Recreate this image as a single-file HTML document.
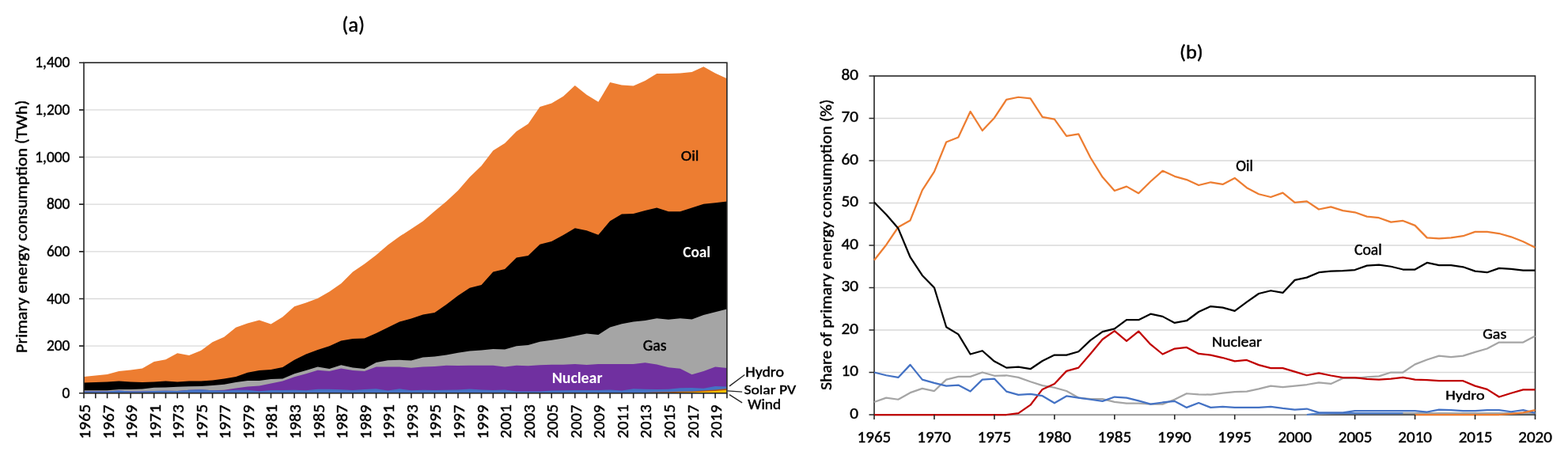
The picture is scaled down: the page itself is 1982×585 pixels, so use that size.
<!DOCTYPE html>
<html><head><meta charset="utf-8"><title>Primary energy consumption</title>
<style>html,body{margin:0;padding:0;background:#fff;}svg{display:block;}text{font-family:Carlito, &quot;Liberation Sans&quot;, Arial, sans-serif;stroke-width:0.45px;paint-order:stroke;}</style>
</head><body>
<svg width="1982" height="585" viewBox="0 0 1982 585" font-family='Carlito, &quot;Liberation Sans&quot;, Arial, sans-serif'>
<rect width="1982" height="585" fill="#fff"/>
<line x1="106.0" x2="918.9" y1="437.14" y2="437.14" stroke="#D9D9D9" stroke-width="1.3"/>
<line x1="106.0" x2="918.9" y1="377.49" y2="377.49" stroke="#D9D9D9" stroke-width="1.3"/>
<line x1="106.0" x2="918.9" y1="317.83" y2="317.83" stroke="#D9D9D9" stroke-width="1.3"/>
<line x1="106.0" x2="918.9" y1="258.17" y2="258.17" stroke="#D9D9D9" stroke-width="1.3"/>
<line x1="106.0" x2="918.9" y1="198.51" y2="198.51" stroke="#D9D9D9" stroke-width="1.3"/>
<line x1="106.0" x2="918.9" y1="138.86" y2="138.86" stroke="#D9D9D9" stroke-width="1.3"/>
<path d="M106,496.8L106,475.9L120.78,474.5L135.56,473L150.34,469.1L165.12,467.6L179.9,465.5L194.68,457.1L209.46,454.2L224.24,446.3L239.02,449L253.8,443.1L268.58,432.3L283.36,425.7L298.14,413.8L312.92,408.5L327.7,404.5L342.48,409.6L357.26,400.4L372.04,387.2L386.82,382.5L401.6,377.1L416.38,368.5L431.16,358.2L445.94,343.5L460.72,333.6L475.5,322.3L490.28,309.5L505.06,298.8L519.84,289.2L534.62,279.6L549.4,266.7L564.18,254.4L578.96,240.7L593.74,223.8L608.52,209.5L623.3,190.3L638.08,181.1L652.86,166L667.64,156.6L682.42,134.9L697.2,130.4L711.98,121.8L726.76,108L741.54,119.7L756.32,128.8L771.1,104.1L785.88,107.4L800.66,108.5L815.44,102.1L830.22,93.1L845,93.1L859.78,92.6L874.56,91L889.34,84.2L904.12,92.4L918.9,99.2L918.9,496.8Z" fill="#ED7D31"/>
<path d="M106,496.8L106,483.4L120.78,482.9L135.56,482.5L150.34,481.6L165.12,482.5L179.9,482.9L194.68,482.5L209.46,481.6L224.24,482.5L239.02,481.6L253.8,481.6L268.58,480.4L283.36,478.6L298.14,476L312.92,470.7L327.7,468.1L342.48,467.1L357.26,464L372.04,454.8L386.82,447.6L401.6,442L416.38,437.3L431.16,430.6L445.94,428.1L460.72,427.5L475.5,420.9L490.28,413.7L505.06,406.5L519.84,402.4L534.62,397.4L549.4,394.9L564.18,384.7L578.96,373.4L593.74,363.7L608.52,360L623.3,343.6L638.08,339.9L652.86,325.6L667.64,323.1L682.42,308.7L697.2,305L711.98,297L726.76,288.3L741.54,291.2L756.32,296.7L771.1,279.3L785.88,270.6L800.66,270L815.44,265.9L830.22,262.4L845,267.3L859.78,267.3L874.56,262.4L889.34,257.7L904.12,256.3L918.9,254.6L918.9,496.8Z" fill="#000000"/>
<path d="M106,496.8L106,493.3L120.78,493.3L135.56,493.3L150.34,491.9L165.12,491.9L179.9,491.5L194.68,489.7L209.46,489.4L224.24,488.8L239.02,488.3L253.8,487.9L268.58,487L283.36,485.8L298.14,482.9L312.92,481L327.7,481L342.48,479L357.26,478.4L372.04,472.2L386.82,468.1L401.6,463.4L416.38,466.1L431.16,461.3L445.94,464.6L460.72,466.1L475.5,457.9L490.28,455.2L505.06,454.8L519.84,455.5L534.62,451.4L549.4,450.5L564.18,448.6L578.96,445.8L593.74,443.5L608.52,442.4L623.3,441.1L638.08,441.6L652.86,437.3L667.64,436L682.42,431.7L697.2,429.8L711.98,427.6L726.76,424.6L741.54,421.6L756.32,423.1L771.1,413.4L785.88,409.2L800.66,406.6L815.44,404.9L830.22,402.3L845,403.8L859.78,402.3L874.56,403.4L889.34,398.1L904.12,394.2L918.9,390.4L918.9,496.8Z" fill="#A5A5A5"/>
<path d="M106,496.8L106,494.4L120.78,494.4L135.56,494.4L150.34,493.53L165.12,494.38L179.9,494.4L194.68,494.1L209.46,493.82L224.24,494.02L239.02,492.83L253.8,492.24L268.58,493.25L283.36,492.86L298.14,490.6L312.92,488.5L327.7,487.6L342.48,484.5L357.26,481.4L372.04,476.3L386.82,472.2L401.6,467.7L416.38,469.1L431.16,465.6L445.94,468.1L460.72,469.1L475.5,463.6L490.28,463.6L505.06,463.6L519.84,464.8L534.62,463.6L549.4,463.1L564.18,461.8L578.96,462.1L593.74,461.8L608.52,461.8L623.3,461.8L638.08,463.6L652.86,461.8L667.64,462.3L682.42,461.2L697.2,460.8L711.98,460.8L726.76,460L741.54,461.1L756.32,460L771.1,460L785.88,460L800.66,460L815.44,458.3L830.22,460.4L845,464.3L859.78,465.8L874.56,473.2L889.34,469L904.12,463.6L918.9,465.1L918.9,496.8Z" fill="#7030A0"/>
<path d="M106,496.8L106,494.4L120.78,494.4L135.56,494.4L150.34,493.53L165.12,494.38L179.9,494.4L194.68,494.1L209.46,493.82L224.24,494.02L239.02,492.83L253.8,492.24L268.58,493.25L283.36,493.46L298.14,492.73L312.92,492.87L327.7,494.26L342.48,492.96L357.26,492.94L372.04,492.85L386.82,493.14L401.6,491.77L416.38,491.67L431.16,492.23L445.94,492.97L460.72,492.07L475.5,491.22L490.28,493.62L505.06,491.26L519.84,493.27L534.62,492.67L549.4,492.89L564.18,492.68L578.96,492.45L593.74,491.61L608.52,492.49L623.3,493.12L638.08,492.38L652.86,494.4L667.64,494.4L682.42,494.4L697.2,493.5L711.98,493.23L726.76,493L741.54,492.91L756.32,492.89L771.1,492.57L785.88,493.57L800.66,491.34L815.44,491.66L830.22,491.97L845,491.67L859.78,490.35L874.56,489.94L889.34,490.71L904.12,488.05L918.9,488.5L918.9,496.8Z" fill="#4472C4"/>
<path d="M106,496.8L106,496.8L120.78,496.8L135.56,496.8L150.34,496.8L165.12,496.8L179.9,496.8L194.68,496.8L209.46,496.8L224.24,496.8L239.02,496.8L253.8,496.8L268.58,496.8L283.36,496.8L298.14,496.8L312.92,496.8L327.7,496.8L342.48,496.8L357.26,496.8L372.04,496.8L386.82,496.8L401.6,496.8L416.38,496.8L431.16,496.8L445.94,496.8L460.72,496.8L475.5,496.8L490.28,496.8L505.06,496.8L519.84,496.8L534.62,496.8L549.4,496.8L564.18,496.8L578.96,496.8L593.74,496.8L608.52,496.8L623.3,496.8L638.08,496.8L652.86,496.8L667.64,496.8L682.42,496.8L697.2,496.8L711.98,496.6L726.76,496.5L741.54,496.3L756.32,496.2L771.1,496.1L785.88,496.1L800.66,496L815.44,496L830.22,495.6L845,495.3L859.78,494.8L874.56,494.4L889.34,493.6L904.12,492.5L918.9,490.9L918.9,496.8Z" fill="#B4530F"/>
<path d="M106,496.8L106,496.8L120.78,496.8L135.56,496.8L150.34,496.8L165.12,496.8L179.9,496.8L194.68,496.8L209.46,496.8L224.24,496.8L239.02,496.8L253.8,496.8L268.58,496.8L283.36,496.8L298.14,496.8L312.92,496.8L327.7,496.8L342.48,496.8L357.26,496.8L372.04,496.8L386.82,496.8L401.6,496.8L416.38,496.8L431.16,496.8L445.94,496.8L460.72,496.8L475.5,496.8L490.28,496.8L505.06,496.8L519.84,496.8L534.62,496.8L549.4,496.8L564.18,496.8L578.96,496.8L593.74,496.8L608.52,496.8L623.3,496.8L638.08,496.8L652.86,496.8L667.64,496.8L682.42,496.8L697.2,496.8L711.98,496.8L726.76,496.8L741.54,496.8L756.32,496.8L771.1,496.8L785.88,496.8L800.66,496.8L815.44,496.8L830.22,496.5L845,496.2L859.78,495.8L874.56,495.4L889.34,494.8L904.12,494L918.9,492.8L918.9,496.8Z" fill="#FFC000"/>
<rect x="106.0" y="79.2" width="812.9" height="417.6" fill="none" stroke="#262626" stroke-width="1.6"/>
<path d="M100,496.8H106.0M100,437.14H106.0M100,377.49H106.0M100,317.83H106.0M100,258.17H106.0M100,198.51H106.0M100,138.86H106.0M100,79.2H106.0M106,496.8V503.3M120.78,496.8V503.3M135.56,496.8V503.3M150.34,496.8V503.3M165.12,496.8V503.3M179.9,496.8V503.3M194.68,496.8V503.3M209.46,496.8V503.3M224.24,496.8V503.3M239.02,496.8V503.3M253.8,496.8V503.3M268.58,496.8V503.3M283.36,496.8V503.3M298.14,496.8V503.3M312.92,496.8V503.3M327.7,496.8V503.3M342.48,496.8V503.3M357.26,496.8V503.3M372.04,496.8V503.3M386.82,496.8V503.3M401.6,496.8V503.3M416.38,496.8V503.3M431.16,496.8V503.3M445.94,496.8V503.3M460.72,496.8V503.3M475.5,496.8V503.3M490.28,496.8V503.3M505.06,496.8V503.3M519.84,496.8V503.3M534.62,496.8V503.3M549.4,496.8V503.3M564.18,496.8V503.3M578.96,496.8V503.3M593.74,496.8V503.3M608.52,496.8V503.3M623.3,496.8V503.3M638.08,496.8V503.3M652.86,496.8V503.3M667.64,496.8V503.3M682.42,496.8V503.3M697.2,496.8V503.3M711.98,496.8V503.3M726.76,496.8V503.3M741.54,496.8V503.3M756.32,496.8V503.3M771.1,496.8V503.3M785.88,496.8V503.3M800.66,496.8V503.3M815.44,496.8V503.3M830.22,496.8V503.3M845,496.8V503.3M859.78,496.8V503.3M874.56,496.8V503.3M889.34,496.8V503.3M904.12,496.8V503.3M918.9,496.8V503.3" stroke="#262626" stroke-width="1.6" fill="none"/>
<text x="432.24" y="39.87" font-size="25.83" font-weight="400" fill="#000" stroke="#000" textLength="28.78" lengthAdjust="spacingAndGlyphs">(a)</text>
<text x="78.53" y="503" font-size="19.34" font-weight="400" fill="#000" stroke="#000" textLength="9.8" lengthAdjust="spacingAndGlyphs">0</text>
<text x="58.92" y="443.34" font-size="19.34" font-weight="400" fill="#000" stroke="#000" textLength="29.41" lengthAdjust="spacingAndGlyphs">200</text>
<text x="58.92" y="383.68" font-size="19.34" font-weight="400" fill="#000" stroke="#000" textLength="29.41" lengthAdjust="spacingAndGlyphs">400</text>
<text x="58.92" y="324.03" font-size="19.34" font-weight="400" fill="#000" stroke="#000" textLength="29.41" lengthAdjust="spacingAndGlyphs">600</text>
<text x="58.92" y="264.37" font-size="19.34" font-weight="400" fill="#000" stroke="#000" textLength="29.41" lengthAdjust="spacingAndGlyphs">800</text>
<text x="44.3" y="204.71" font-size="19.34" font-weight="400" fill="#000" stroke="#000" textLength="44.04" lengthAdjust="spacingAndGlyphs">1,000</text>
<text x="44.3" y="145.05" font-size="19.34" font-weight="400" fill="#000" stroke="#000" textLength="44.04" lengthAdjust="spacingAndGlyphs">1,200</text>
<text x="44.3" y="85.4" font-size="19.34" font-weight="400" fill="#000" stroke="#000" textLength="44.04" lengthAdjust="spacingAndGlyphs">1,400</text>
<text transform="translate(114,553) rotate(-90)" x="-1.69" y="0" font-size="20.95" font-weight="400" fill="#000" stroke="#000" textLength="43.85" lengthAdjust="spacingAndGlyphs">1965</text>
<text transform="translate(143.56,553) rotate(-90)" x="-1.66" y="0" font-size="20.95" font-weight="400" fill="#000" stroke="#000" textLength="43.14" lengthAdjust="spacingAndGlyphs">1967</text>
<text transform="translate(173.12,553) rotate(-90)" x="-1.66" y="0" font-size="20.95" font-weight="400" fill="#000" stroke="#000" textLength="43.14" lengthAdjust="spacingAndGlyphs">1969</text>
<text transform="translate(202.68,553) rotate(-90)" x="-1.68" y="0" font-size="20.95" font-weight="400" fill="#000" stroke="#000" textLength="43.49" lengthAdjust="spacingAndGlyphs">1971</text>
<text transform="translate(232.24,553) rotate(-90)" x="-1.68" y="0" font-size="20.95" font-weight="400" fill="#000" stroke="#000" textLength="43.49" lengthAdjust="spacingAndGlyphs">1973</text>
<text transform="translate(261.8,553) rotate(-90)" x="-1.69" y="0" font-size="20.95" font-weight="400" fill="#000" stroke="#000" textLength="43.85" lengthAdjust="spacingAndGlyphs">1975</text>
<text transform="translate(291.36,553) rotate(-90)" x="-1.66" y="0" font-size="20.95" font-weight="400" fill="#000" stroke="#000" textLength="43.14" lengthAdjust="spacingAndGlyphs">1977</text>
<text transform="translate(320.92,553) rotate(-90)" x="-1.66" y="0" font-size="20.95" font-weight="400" fill="#000" stroke="#000" textLength="43.14" lengthAdjust="spacingAndGlyphs">1979</text>
<text transform="translate(350.48,553) rotate(-90)" x="-1.68" y="0" font-size="20.95" font-weight="400" fill="#000" stroke="#000" textLength="43.49" lengthAdjust="spacingAndGlyphs">1981</text>
<text transform="translate(380.04,553) rotate(-90)" x="-1.68" y="0" font-size="20.95" font-weight="400" fill="#000" stroke="#000" textLength="43.49" lengthAdjust="spacingAndGlyphs">1983</text>
<text transform="translate(409.6,553) rotate(-90)" x="-1.69" y="0" font-size="20.95" font-weight="400" fill="#000" stroke="#000" textLength="43.85" lengthAdjust="spacingAndGlyphs">1985</text>
<text transform="translate(439.16,553) rotate(-90)" x="-1.66" y="0" font-size="20.95" font-weight="400" fill="#000" stroke="#000" textLength="43.14" lengthAdjust="spacingAndGlyphs">1987</text>
<text transform="translate(468.72,553) rotate(-90)" x="-1.66" y="0" font-size="20.95" font-weight="400" fill="#000" stroke="#000" textLength="43.14" lengthAdjust="spacingAndGlyphs">1989</text>
<text transform="translate(498.28,553) rotate(-90)" x="-1.68" y="0" font-size="20.95" font-weight="400" fill="#000" stroke="#000" textLength="43.49" lengthAdjust="spacingAndGlyphs">1991</text>
<text transform="translate(527.84,553) rotate(-90)" x="-1.68" y="0" font-size="20.95" font-weight="400" fill="#000" stroke="#000" textLength="43.49" lengthAdjust="spacingAndGlyphs">1993</text>
<text transform="translate(557.4,553) rotate(-90)" x="-1.69" y="0" font-size="20.95" font-weight="400" fill="#000" stroke="#000" textLength="43.85" lengthAdjust="spacingAndGlyphs">1995</text>
<text transform="translate(586.96,553) rotate(-90)" x="-1.66" y="0" font-size="20.95" font-weight="400" fill="#000" stroke="#000" textLength="43.14" lengthAdjust="spacingAndGlyphs">1997</text>
<text transform="translate(616.52,553) rotate(-90)" x="-1.66" y="0" font-size="20.95" font-weight="400" fill="#000" stroke="#000" textLength="43.14" lengthAdjust="spacingAndGlyphs">1999</text>
<text transform="translate(646.08,553) rotate(-90)" x="-0.65" y="0" font-size="20.95" font-weight="400" fill="#000" stroke="#000" textLength="42.45" lengthAdjust="spacingAndGlyphs">2001</text>
<text transform="translate(675.64,553) rotate(-90)" x="-0.65" y="0" font-size="20.95" font-weight="400" fill="#000" stroke="#000" textLength="42.45" lengthAdjust="spacingAndGlyphs">2003</text>
<text transform="translate(705.2,553) rotate(-90)" x="-0.66" y="0" font-size="20.95" font-weight="400" fill="#000" stroke="#000" textLength="42.79" lengthAdjust="spacingAndGlyphs">2005</text>
<text transform="translate(734.76,553) rotate(-90)" x="-0.65" y="0" font-size="20.95" font-weight="400" fill="#000" stroke="#000" textLength="42.12" lengthAdjust="spacingAndGlyphs">2007</text>
<text transform="translate(764.32,553) rotate(-90)" x="-0.65" y="0" font-size="20.95" font-weight="400" fill="#000" stroke="#000" textLength="42.12" lengthAdjust="spacingAndGlyphs">2009</text>
<text transform="translate(793.88,553) rotate(-90)" x="-0.65" y="0" font-size="20.95" font-weight="400" fill="#000" stroke="#000" textLength="42.45" lengthAdjust="spacingAndGlyphs">2011</text>
<text transform="translate(823.44,553) rotate(-90)" x="-0.65" y="0" font-size="20.95" font-weight="400" fill="#000" stroke="#000" textLength="42.45" lengthAdjust="spacingAndGlyphs">2013</text>
<text transform="translate(853,553) rotate(-90)" x="-0.66" y="0" font-size="20.95" font-weight="400" fill="#000" stroke="#000" textLength="42.79" lengthAdjust="spacingAndGlyphs">2015</text>
<text transform="translate(882.56,553) rotate(-90)" x="-0.65" y="0" font-size="20.95" font-weight="400" fill="#000" stroke="#000" textLength="42.12" lengthAdjust="spacingAndGlyphs">2017</text>
<text transform="translate(912.12,553) rotate(-90)" x="-0.65" y="0" font-size="20.95" font-weight="400" fill="#000" stroke="#000" textLength="42.12" lengthAdjust="spacingAndGlyphs">2019</text>
<text transform="translate(33.9,444.6) rotate(-90)" x="-1.38" y="0" font-size="20.72" font-weight="400" fill="#000" stroke="#000" textLength="319.4" lengthAdjust="spacingAndGlyphs">Primary energy consumption (TWh)</text>
<text x="860.77" y="203" font-size="19.06" font-weight="400" fill="#000" stroke="#000" textLength="22.7" lengthAdjust="spacingAndGlyphs">Oil</text>
<text x="863.2" y="325.09" font-size="19.9" font-weight="700" fill="#fff" stroke="none" textLength="34.93" lengthAdjust="spacingAndGlyphs">Coal</text>
<text x="812.68" y="443.28" font-size="20.24" font-weight="400" fill="#000" stroke="#000" textLength="29.75" lengthAdjust="spacingAndGlyphs">Gas</text>
<text x="697.77" y="483.88" font-size="20.73" font-weight="700" fill="#fff" stroke="none" textLength="63.66" lengthAdjust="spacingAndGlyphs">Nuclear</text>
<text x="942.26" y="475.6" font-size="17.35" font-weight="400" fill="#000" stroke="#000" textLength="48.69" lengthAdjust="spacingAndGlyphs">Hydro</text>
<text x="940.59" y="497.74" font-size="16.83" font-weight="400" fill="#000" stroke="#000" textLength="65.5" lengthAdjust="spacingAndGlyphs">Solar PV</text>
<text x="945.3" y="516.93" font-size="17.53" font-weight="400" fill="#000" stroke="#000" textLength="41.79" lengthAdjust="spacingAndGlyphs">Wind</text>
<path d="M922,487.9L941.3,473.5M919.5,493.9L938.1,495.1M922,498.7L938.1,508.8" stroke="#262626" stroke-width="1.4" fill="none"/>
<line x1="1105.0" x2="1940.5" y1="470.5" y2="470.5" stroke="#D9D9D9" stroke-width="1.3"/>
<line x1="1105.0" x2="1940.5" y1="417" y2="417" stroke="#D9D9D9" stroke-width="1.3"/>
<line x1="1105.0" x2="1940.5" y1="363.5" y2="363.5" stroke="#D9D9D9" stroke-width="1.3"/>
<line x1="1105.0" x2="1940.5" y1="310" y2="310" stroke="#D9D9D9" stroke-width="1.3"/>
<line x1="1105.0" x2="1940.5" y1="256.5" y2="256.5" stroke="#D9D9D9" stroke-width="1.3"/>
<line x1="1105.0" x2="1940.5" y1="203" y2="203" stroke="#D9D9D9" stroke-width="1.3"/>
<line x1="1105.0" x2="1940.5" y1="149.5" y2="149.5" stroke="#D9D9D9" stroke-width="1.3"/>
<rect x="1105.0" y="96.0" width="835.5" height="428" fill="none" stroke="#262626" stroke-width="1.6"/>
<polyline points="1105,524 1120.19,524 1135.38,524 1150.57,524 1165.76,524 1180.95,524 1196.15,524 1211.34,524 1226.53,524 1241.72,524 1256.91,524 1272.1,524 1287.29,524 1302.48,524 1317.67,524 1332.86,524 1348.05,524 1363.25,524 1378.44,524 1393.63,524 1408.82,524 1424.01,524 1439.2,524 1454.39,524 1469.58,524 1484.77,524 1499.96,524 1515.15,524 1530.35,524 1545.54,524 1560.73,524 1575.92,524 1591.11,524 1606.3,524 1621.49,524 1636.68,524 1651.87,524 1667.06,523.2 1682.25,522.39 1697.45,522.13 1712.64,522.13 1727.83,522.13 1743.02,522.13 1758.21,522.13 1773.4,522.13 1788.59,522.13 1803.78,522.13 1818.97,522.13 1834.16,522.13 1849.35,522.13 1864.55,522.13 1879.74,522.13 1894.93,522.13 1910.12,522.13 1925.31,522.13 1940.5,522.13" fill="none" stroke="#A5A5A5" stroke-width="2.25" stroke-linejoin="round"/>
<polyline points="1651.87,524 1667.06,522.39 1682.25,522.13 1697.45,522.13 1712.64,522.13 1727.83,522.13 1743.02,522.13 1758.21,522.13 1773.4,522.13" fill="none" stroke="#4F7FCB" stroke-width="2.25" stroke-linejoin="round"/>
<polyline points="1105,328.73 1120.19,309.47 1135.38,287 1150.57,278.44 1165.76,240.45 1180.95,216.91 1196.15,179.46 1211.34,173.57 1226.53,140.94 1241.72,165.01 1256.91,148.97 1272.1,125.96 1287.29,122.75 1302.48,124.35 1317.67,147.9 1332.86,150.57 1348.05,171.97 1363.25,169.3 1378.44,199.25 1393.63,223.87 1408.82,240.99 1424.01,235.63 1439.2,244.2 1454.39,229.22 1469.58,215.84 1484.77,222.8 1499.96,227.07 1515.15,234.03 1530.35,230.28 1545.54,232.96 1560.73,224.94 1575.92,237.24 1591.11,245.26 1606.3,249.01 1621.49,243.66 1636.68,255.97 1651.87,254.36 1667.06,264.52 1682.25,261.31 1697.45,266.13 1712.64,268.27 1727.83,273.62 1743.02,275.23 1758.21,280.57 1773.4,278.97 1788.59,284.85 1803.78,300.37 1818.97,301.44 1834.16,300.37 1849.35,298.23 1864.55,292.88 1879.74,292.88 1894.93,295.02 1910.12,299.3 1925.31,305.19 1940.5,312.68" fill="none" stroke="#ED7D31" stroke-width="2.25" stroke-linejoin="round"/>
<polyline points="1105,255.43 1120.19,270.95 1135.38,288.6 1150.57,324.98 1165.76,347.99 1180.95,363.5 1196.15,413.25 1211.34,422.35 1226.53,447.5 1241.72,443.22 1256.91,456.59 1272.1,464.62 1287.29,463.55 1302.48,466.22 1317.67,456.06 1332.86,448.56 1348.05,448.56 1363.25,444.28 1378.44,429.84 1393.63,419.14 1408.82,415.39 1424.01,404.16 1439.2,404.16 1454.39,396.67 1469.58,399.88 1484.77,407.9 1499.96,405.23 1515.15,394 1530.35,387.04 1545.54,388.64 1560.73,392.93 1575.92,381.69 1591.11,370.99 1606.3,367.25 1621.49,369.92 1636.68,353.87 1651.87,350.66 1667.06,344.24 1682.25,342.63 1697.45,342.1 1712.64,341.03 1727.83,335.68 1743.02,334.61 1758.21,336.75 1773.4,340.5 1788.59,340.5 1803.78,331.94 1818.97,335.14 1834.16,335.14 1849.35,337.29 1864.55,342.63 1879.74,344.24 1894.93,338.89 1910.12,339.96 1925.31,341.56 1940.5,341.56" fill="none" stroke="#000000" stroke-width="2.25" stroke-linejoin="round"/>
<polyline points="1105,507.95 1120.19,502.6 1135.38,504.74 1150.57,496.18 1165.76,490.83 1180.95,494.04 1196.15,479.6 1211.34,475.85 1226.53,475.85 1241.72,470.5 1256.91,474.78 1272.1,474.25 1287.29,476.92 1302.48,482.27 1317.67,487.08 1332.86,489.76 1348.05,494.04 1363.25,502.6 1378.44,504.2 1393.63,504.2 1408.82,507.95 1424.01,509.56 1439.2,509.56 1454.39,510.62 1469.58,510.62 1484.77,504.74 1499.96,497.25 1515.15,498.32 1530.35,498.59 1545.54,496.72 1560.73,495.11 1575.92,494.57 1591.11,491.37 1606.3,487.62 1621.49,489.23 1636.68,487.62 1651.87,486.01 1667.06,483.34 1682.25,484.94 1697.45,477.99 1712.64,477.99 1727.83,476.38 1743.02,475.31 1758.21,470.5 1773.4,470.5 1788.59,460.33 1803.78,454.45 1818.97,449.63 1834.16,451.24 1849.35,449.63 1864.55,444.82 1879.74,440.54 1894.93,432.51 1910.12,432.51 1925.31,432.51 1940.5,424.49" fill="none" stroke="#A5A5A5" stroke-width="2.25" stroke-linejoin="round"/>
<polyline points="1105,524 1120.19,524 1135.38,524 1150.57,524 1165.76,524 1180.95,524 1196.15,524 1211.34,524 1226.53,524 1241.72,524 1256.91,524 1272.1,524 1287.29,522.13 1302.48,511.69 1317.67,491.9 1332.86,484.94 1348.05,468.89 1363.25,464.62 1378.44,446.96 1393.63,428.77 1408.82,418.07 1424.01,430.91 1439.2,418.61 1454.39,435.19 1469.58,447.5 1484.77,440.54 1499.96,438.94 1515.15,446.96 1530.35,448.56 1545.54,452.04 1560.73,456.32 1575.92,454.99 1591.11,461.14 1606.3,465.15 1621.49,465.15 1636.68,469.7 1651.87,474.25 1667.06,471.3 1682.25,474.51 1697.45,477.19 1712.64,477.19 1727.83,478.79 1743.02,479.6 1758.21,478.52 1773.4,476.92 1788.59,479.6 1803.78,480.13 1818.97,481.2 1834.16,481.2 1849.35,481.2 1864.55,487.62 1879.74,491.9 1894.93,501.53 1910.12,496.72 1925.31,492.44 1940.5,492.44" fill="none" stroke="#C00000" stroke-width="2.25" stroke-linejoin="round"/>
<polyline points="1105,470.5 1120.19,474.25 1135.38,476.92 1150.57,460.87 1165.76,479.6 1180.95,483.88 1196.15,487.62 1211.34,486.55 1226.53,494.57 1241.72,479.6 1256.91,478.52 1272.1,494.57 1287.29,498.86 1302.48,497.78 1317.67,500.19 1332.86,509.29 1348.05,500.46 1363.25,502.6 1378.44,504.74 1393.63,506.88 1408.82,501.53 1424.01,502.6 1439.2,506.35 1454.39,510.62 1469.58,508.49 1484.77,506.88 1499.96,514.9 1515.15,509.02 1530.35,514.9 1545.54,513.84 1560.73,514.9 1575.92,514.9 1591.11,514.9 1606.3,513.84 1621.49,515.98 1636.68,517.58 1651.87,516.51 1667.06,521.33 1682.25,521.33 1697.45,521.33 1712.64,519.18 1727.83,519.18 1743.02,519.18 1758.21,519.18 1773.4,519.18 1788.59,519.18 1803.78,520.52 1818.97,517.58 1834.16,518.12 1849.35,519.18 1864.55,519.18 1879.74,518.12 1894.93,518.12 1910.12,520.25 1925.31,518.12 1940.5,521.86" fill="none" stroke="#4472C4" stroke-width="2.25" stroke-linejoin="round"/>
<polyline points="1788.59,524 1803.78,524 1818.97,524 1834.16,524 1849.35,524 1864.55,524 1879.74,524 1894.93,524 1910.12,522.93 1925.31,521.33 1940.5,518.12" fill="none" stroke="#ED7D31" stroke-width="2.25" stroke-linejoin="round"/>
<path d="M1098.5,524H1105.0M1098.5,470.5H1105.0M1098.5,417H1105.0M1098.5,363.5H1105.0M1098.5,310H1105.0M1098.5,256.5H1105.0M1098.5,203H1105.0M1098.5,149.5H1105.0M1098.5,96H1105.0M1105,524.0V530M1180.95,524.0V530M1256.91,524.0V530M1332.86,524.0V530M1408.82,524.0V530M1484.77,524.0V530M1560.73,524.0V530M1636.68,524.0V530M1712.64,524.0V530M1788.59,524.0V530M1864.55,524.0V530M1940.5,524.0V530" stroke="#262626" stroke-width="1.6" fill="none"/>
<text x="1490.95" y="73.68" font-size="25.03" font-weight="400" fill="#000" stroke="#000" textLength="29.87" lengthAdjust="spacingAndGlyphs">(b)</text>
<text x="1074.34" y="528.67" font-size="21.19" font-weight="400" fill="#000" stroke="#000" textLength="10.74" lengthAdjust="spacingAndGlyphs">0</text>
<text x="1063.6" y="475.17" font-size="21.19" font-weight="400" fill="#000" stroke="#000" textLength="21.48" lengthAdjust="spacingAndGlyphs">10</text>
<text x="1063.6" y="421.67" font-size="21.19" font-weight="400" fill="#000" stroke="#000" textLength="21.48" lengthAdjust="spacingAndGlyphs">20</text>
<text x="1063.6" y="368.17" font-size="21.19" font-weight="400" fill="#000" stroke="#000" textLength="21.48" lengthAdjust="spacingAndGlyphs">30</text>
<text x="1063.6" y="314.67" font-size="21.19" font-weight="400" fill="#000" stroke="#000" textLength="21.48" lengthAdjust="spacingAndGlyphs">40</text>
<text x="1063.6" y="261.17" font-size="21.19" font-weight="400" fill="#000" stroke="#000" textLength="21.48" lengthAdjust="spacingAndGlyphs">50</text>
<text x="1063.6" y="207.67" font-size="21.19" font-weight="400" fill="#000" stroke="#000" textLength="21.48" lengthAdjust="spacingAndGlyphs">60</text>
<text x="1063.6" y="154.17" font-size="21.19" font-weight="400" fill="#000" stroke="#000" textLength="21.48" lengthAdjust="spacingAndGlyphs">70</text>
<text x="1063.6" y="100.67" font-size="21.19" font-weight="400" fill="#000" stroke="#000" textLength="21.48" lengthAdjust="spacingAndGlyphs">80</text>
<text x="1083.61" y="558.67" font-size="21.05" font-weight="400" fill="#000" stroke="#000" textLength="42.67" lengthAdjust="spacingAndGlyphs">1965</text>
<text x="1159.23" y="558.67" font-size="21.05" font-weight="400" fill="#000" stroke="#000" textLength="42.67" lengthAdjust="spacingAndGlyphs">1970</text>
<text x="1235.52" y="558.67" font-size="21.05" font-weight="400" fill="#000" stroke="#000" textLength="42.67" lengthAdjust="spacingAndGlyphs">1975</text>
<text x="1311.14" y="558.67" font-size="21.05" font-weight="400" fill="#000" stroke="#000" textLength="42.67" lengthAdjust="spacingAndGlyphs">1980</text>
<text x="1387.42" y="558.67" font-size="21.05" font-weight="400" fill="#000" stroke="#000" textLength="42.67" lengthAdjust="spacingAndGlyphs">1985</text>
<text x="1463.05" y="558.67" font-size="21.05" font-weight="400" fill="#000" stroke="#000" textLength="42.67" lengthAdjust="spacingAndGlyphs">1990</text>
<text x="1539.33" y="558.67" font-size="21.05" font-weight="400" fill="#000" stroke="#000" textLength="42.67" lengthAdjust="spacingAndGlyphs">1995</text>
<text x="1615.45" y="558.67" font-size="21.05" font-weight="400" fill="#000" stroke="#000" textLength="42.67" lengthAdjust="spacingAndGlyphs">2000</text>
<text x="1691.74" y="558.67" font-size="21.05" font-weight="400" fill="#000" stroke="#000" textLength="42.67" lengthAdjust="spacingAndGlyphs">2005</text>
<text x="1767.36" y="558.67" font-size="21.05" font-weight="400" fill="#000" stroke="#000" textLength="42.67" lengthAdjust="spacingAndGlyphs">2010</text>
<text x="1843.65" y="558.67" font-size="21.05" font-weight="400" fill="#000" stroke="#000" textLength="42.67" lengthAdjust="spacingAndGlyphs">2015</text>
<text x="1919.27" y="558.67" font-size="21.05" font-weight="400" fill="#000" stroke="#000" textLength="42.67" lengthAdjust="spacingAndGlyphs">2020</text>
<text transform="translate(1051.1,492.6) rotate(-90)" x="-0.34" y="0" font-size="21.18" font-weight="400" fill="#000" stroke="#000" textLength="367.64" lengthAdjust="spacingAndGlyphs">Share of primary energy consumption (%)</text>
<text x="1562.19" y="215.5" font-size="19.34" font-weight="400" fill="#000" stroke="#000" textLength="21.72" lengthAdjust="spacingAndGlyphs">Oil</text>
<text x="1711.99" y="322.3" font-size="19.34" font-weight="400" fill="#000" stroke="#000" textLength="34.75" lengthAdjust="spacingAndGlyphs">Coal</text>
<text x="1531.95" y="437.5" font-size="19.2" font-weight="400" fill="#000" stroke="#000" textLength="63.15" lengthAdjust="spacingAndGlyphs">Nuclear</text>
<text x="1874.28" y="428.22" font-size="17.71" font-weight="400" fill="#000" stroke="#000" textLength="29.96" lengthAdjust="spacingAndGlyphs">Gas</text>
<text x="1827.24" y="504.6" font-size="16.07" font-weight="400" fill="#000" stroke="#000" textLength="49.31" lengthAdjust="spacingAndGlyphs">Hydro</text>
</svg>
</body></html>
